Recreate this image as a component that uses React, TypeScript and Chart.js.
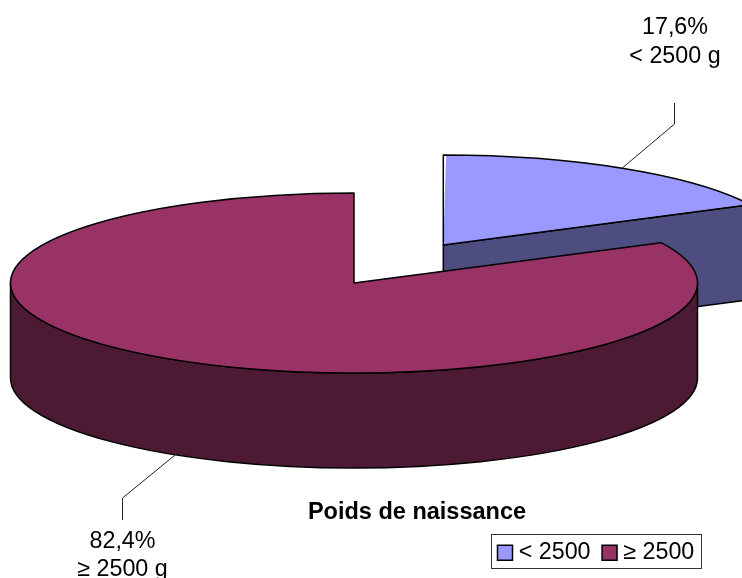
import React, { useEffect, useRef } from "react";
import { Chart, registerables } from "chart.js";

Chart.register(...registerables);

const categories = ["< 2500", "≥ 2500"];
const values = [17.6, 82.4];
const valueLabels = ["17,6%", "82,4%"];
const sliceLabels = ["< 2500 g", "≥ 2500 g"];
const chartTitle = "Poids de naissance";
const topColors = ["#9999FF", "#993366"];
const wallColors = ["#4D4D80", "#4D1A33"];

const FONT = "'Liberation Sans', Arial, sans-serif";
const LABEL_SIZE = 23.3;
const CX = 354;
const CY = 283;
const RX = 343.5;
const RY = 90;
const DEPTH = 95;
const BASE_R = 200;
const EXPLODE = 396;
const EDGE = 1.5;

function geometry(chart: any) {
  const arcs = chart.getDatasetMeta(0).data;
  const sx = RX / BASE_R;
  const sy = RY / BASE_R;
  return arcs.map((a: any) => {
    const s = a.startAngle;
    const e = a.endAngle;
    const mid = (s + e) / 2;
    const off = (a.options.offset || 0) / 4;
    return {
      s,
      e,
      mid,
      cx: CX + Math.cos(mid) * off * sx,
      cy: CY + Math.sin(mid) * off * sy,
    };
  });
}

const pie3d = {
  id: "pie3d",
  afterDatasetsUpdate(chart: any) {
    // Chart.js grows an offset arc a little; keep every slice at the same radius.
    chart.getDatasetMeta(0).data.forEach((a: any) => {
      const off = (a.options.offset || 0) / 4;
      const circ = a.endAngle - a.startAngle;
      const fix = 1 - Math.sin(Math.min(Math.PI, circ));
      a.outerRadius = BASE_R - off * fix;
    });
  },
  beforeDraw(chart: any) {
    const t = chart.titleBlock;
    if (t) {
      t.left = 92;
      t.right = 742;
      t.top = 498;
      t.bottom = 526;
    }
    const l = chart.legend;
    if (l) {
      l.left = 486;
      l.right = 742;
      l.top = 524;
      l.bottom = 578;
    }
  },
  beforeDatasetsDraw(chart: any) {
    const ctx = chart.ctx;
    const g = geometry(chart);
    ctx.save();
    ctx.strokeStyle = "#000";
    ctx.lineWidth = EDGE;
    ctx.lineJoin = "round";
    g.forEach((p: any, i: number) => {
      ctx.fillStyle = wallColors[i];
      // radial walls that face the viewer
      [
        { a: p.s, visible: Math.cos(p.s) < -1e-6 },
        { a: p.e, visible: Math.cos(p.e) > 1e-6 },
      ].forEach(({ a, visible }) => {
        if (!visible) return;
        const ex = p.cx + RX * Math.cos(a);
        const ey = p.cy + RY * Math.sin(a);
        ctx.beginPath();
        ctx.moveTo(p.cx, p.cy);
        ctx.lineTo(ex, ey);
        ctx.lineTo(ex, ey + DEPTH);
        ctx.lineTo(p.cx, p.cy + DEPTH);
        ctx.closePath();
        ctx.fill();
        ctx.stroke();
      });
      // outer wall, lower half of the ellipse only
      const from = Math.max(p.s, 0);
      const to = Math.min(p.e, Math.PI);
      if (to > from) {
        ctx.beginPath();
        ctx.ellipse(p.cx, p.cy, RX, RY, 0, from, to);
        ctx.lineTo(p.cx + RX * Math.cos(to), p.cy + RY * Math.sin(to) + DEPTH);
        ctx.ellipse(p.cx, p.cy + DEPTH, RX, RY, 0, to, from, true);
        ctx.closePath();
        ctx.fill();
        ctx.stroke();
      }
    });
    ctx.restore();

    const a0 = chart.getDatasetMeta(0).data[1];
    ctx.save();
    ctx.translate(CX, CY);
    ctx.scale(RX / BASE_R, RY / BASE_R);
    ctx.translate(-a0.x, -a0.y);
  },
  afterDatasetsDraw(chart: any) {
    const ctx = chart.ctx;
    ctx.restore();
    const g = geometry(chart);
    ctx.save();
    ctx.strokeStyle = "#000";
    ctx.lineWidth = EDGE;
    ctx.lineJoin = "round";
    g.forEach((p: any) => {
      ctx.beginPath();
      ctx.moveTo(p.cx, p.cy);
      ctx.ellipse(p.cx, p.cy, RX, RY, 0, p.s, p.e);
      ctx.closePath();
      ctx.stroke();
    });
    ctx.restore();
  },
  afterDraw(chart: any) {
    const ctx = chart.ctx;
    const g = geometry(chart);
    ctx.save();
    // leader lines
    ctx.strokeStyle = "#222";
    ctx.lineWidth = 1;
    const a = g[0];
    const ax = a.cx + RX * Math.cos(a.mid);
    const ay = a.cy + RY * Math.sin(a.mid);
    ctx.beginPath();
    ctx.moveTo(ax - 2, ay);
    ctx.lineTo(674.5, 124);
    ctx.lineTo(674.5, 103);
    ctx.stroke();
    const b = g[1];
    const bx = b.cx + RX * Math.cos(b.mid);
    const by = b.cy + RY * Math.sin(b.mid) + DEPTH;
    ctx.beginPath();
    ctx.moveTo(bx + 2, by);
    ctx.lineTo(122.5, 498);
    ctx.lineTo(122.5, 520);
    ctx.stroke();
    // data labels
    ctx.fillStyle = "#000";
    ctx.font = `${LABEL_SIZE}px ${FONT}`;
    ctx.textAlign = "center";
    ctx.textBaseline = "alphabetic";
    ctx.fillText(valueLabels[0], 675, 34);
    ctx.fillText(sliceLabels[0], 675, 63);
    ctx.fillText(valueLabels[1], 122.5, 548);
    ctx.fillText(sliceLabels[1], 122.5, 576);
    // legend frame
    ctx.strokeStyle = "#333";
    ctx.lineWidth = 1;
    ctx.strokeRect(491.5, 534.5, 210, 34);
    ctx.restore();
  },
};

export default function App() {
  const ref = useRef<HTMLCanvasElement | null>(null);
  useEffect(() => {
    document.body.style.margin = "0";
    const chart = new Chart(ref.current as HTMLCanvasElement, {
      type: "pie",
      data: {
        labels: categories,
        datasets: [
          {
            data: values,
            backgroundColor: topColors,
            borderWidth: 0,
            offset: [EXPLODE, 0],
            radius: BASE_R,
            clip: false,
          } as any,
        ],
      },
      options: {
        responsive: false,
        animation: false,
        events: [],
        rotation: 0,
        plugins: {
          tooltip: { enabled: false },
          title: {
            display: true,
            text: chartTitle,
            position: "bottom",
            color: "#000",
            padding: 0,
            font: { family: FONT, size: 23.5, weight: "bold", lineHeight: 1.2 },
          },
          legend: {
            display: true,
            position: "bottom",
            align: "start",
            labels: {
              usePointStyle: true,
              boxWidth: 4,
              boxHeight: 15,
              padding: 17,
              color: "#000",
              font: { family: FONT, size: LABEL_SIZE },
              generateLabels: () =>
                categories.map((text, i) => ({
                  text,
                  fillStyle: topColors[i],
                  strokeStyle: "#000",
                  lineWidth: 1.5,
                  pointStyle: "rect",
                  hidden: false,
                  index: i,
                })),
            },
          },
        },
      } as any,
      plugins: [pie3d],
    });
    return () => chart.destroy();
  }, []);
  return (
    <div style={{ width: 742, height: 578, overflow: "hidden" }}>
      <canvas ref={ref} width={742} height={578} style={{ display: "block" }} />
    </div>
  );
}
